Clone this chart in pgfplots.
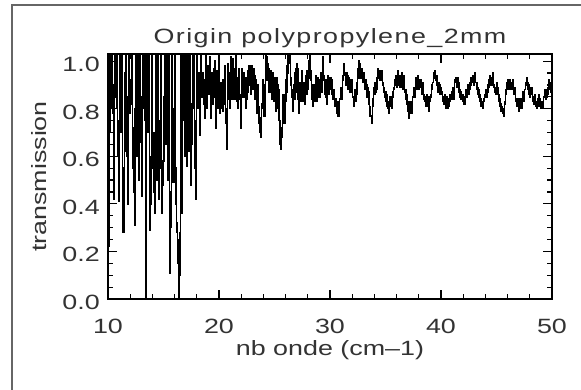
\documentclass[border=0pt]{standalone}
\usepackage{fontspec}
\setmainfont{Liberation Sans}[FakeStretch=1.3]
\newfontfamily\titlefont{Liberation Sans}[FakeStretch=1.3,LetterSpace=7]
\usepackage{pgfplots}
\pgfplotsset{compat=1.18}
\begin{document}
\begin{tikzpicture}[font=\fontsize{15.5}{18.6}\selectfont]
\useasboundingbox (0,0) rectangle (435.75pt,291.75pt);
\fill[white] (0,0) rectangle (435.75pt,291.75pt);
\draw[black!60, line width=1pt] (9pt,-2pt) -- (9pt,288pt) -- (440pt,288pt);
\begin{axis}[
  at={(81pt,67.5pt)}, anchor=south west,
  scale only axis, width=333pt, height=183.75pt,
  xmin=10, xmax=50, ymin=0, ymax=1.03,
  xtick={10,20,30,40,50}, xticklabels={10,20,30,40,50},
  ytick={0,0.2,0.4,0.6,0.8,1.0}, yticklabels={0.0,0.2,0.4,0.6,0.8,1.0},
  minor x tick num=4, minor y tick num=3,
  tick align=inside, xtick pos=both, ytick pos=both,
  major tick length=6.75pt, minor tick length=4pt,
  every tick/.style={black, line width=0.9pt},
  axis line style={black, line width=1.2pt},
  xticklabel style={anchor=base, yshift=-25.5pt, text=black!80},
  yticklabel style={anchor=east, inner sep=0pt, xshift=-6pt, yshift=-2.5pt, text=black!80},
  title={\titlefont Origin polypropylene\_2mm},
  title style={at={(0.5,1)}, anchor=base, yshift=2pt, text=black!80},
  xlabel={nb onde (cm--1)},
  xlabel style={at={(0.5,0)}, anchor=base, yshift=-42pt, text=black!80},
  ylabel={transmission},
  ylabel style={at={(axis description cs:0,0.5)}, anchor=center, yshift=52pt, text=black!80},
]
\addplot[black, line width=1.15pt, const plot mark mid] table {
x y
10.00 0.50
10.05 0.22
10.10 0.25
10.15 0.70
10.20 1.10
10.25 0.92
10.30 0.80
10.35 1.10
10.40 1.10
10.45 0.78
10.50 0.42
10.55 0.90
10.60 1.10
10.65 0.95
10.70 0.85
10.75 1.10
10.80 1.10
10.85 0.80
10.90 0.60
10.95 0.75
11.00 0.41
11.05 0.88
11.10 1.10
11.15 0.90
11.20 0.70
11.25 1.10
11.30 1.10
11.35 0.55
11.40 0.28
11.45 0.45
11.50 0.62
11.55 0.95
11.60 1.10
11.65 0.85
11.70 0.74
11.75 0.60
11.80 0.40
11.85 0.85
11.90 1.10
11.95 0.92
12.00 0.78
12.05 0.82
12.10 0.85
12.15 1.10
12.20 1.10
12.25 0.72
12.30 0.55
12.35 0.45
12.40 0.31
12.45 0.80
12.50 1.10
12.55 0.90
12.60 0.60
12.65 0.85
12.70 1.10
12.75 0.75
12.80 0.50
12.85 0.70
12.90 1.10
12.95 0.85
13.00 0.66
13.05 0.55
13.10 0.43
13.15 0.80
13.20 1.10
13.25 0.90
13.30 0.75
13.35 1.10
13.40 0.00
13.45 1.10
13.50 1.10
13.55 0.80
13.60 0.97
13.65 0.70
13.70 1.10
13.75 0.60
13.80 0.29
13.85 0.40
13.90 0.45
13.95 0.75
14.00 1.10
14.05 0.70
14.10 0.55
14.15 0.45
14.20 0.36
14.25 0.70
14.30 1.10
14.35 0.80
14.40 0.50
14.45 0.75
14.50 1.10
14.55 0.60
14.60 0.42
14.65 0.55
14.70 0.75
14.75 0.95
14.80 1.10
14.85 0.55
14.90 0.36
14.95 0.48
15.00 0.58
15.05 0.85
15.10 1.10
15.15 0.80
15.20 0.65
15.25 0.90
15.30 1.10
15.35 0.70
15.40 0.50
15.45 0.80
15.50 1.10
15.55 0.40
15.60 0.11
15.65 0.30
15.70 0.45
15.75 0.85
15.80 1.10
15.85 0.65
15.90 0.49
15.95 0.80
16.00 1.10
16.05 0.70
16.10 0.55
16.15 0.40
16.20 0.32
16.25 0.28
16.30 0.25
16.35 0.15
16.40 0.00
16.45 0.10
16.50 0.28
16.55 0.70
16.60 1.10
16.65 0.55
16.70 0.36
16.75 0.75
16.80 1.10
16.85 0.80
16.90 0.60
16.95 0.85
17.00 1.10
17.05 0.75
17.10 0.56
17.15 0.85
17.20 1.10
17.25 0.80
17.30 0.62
17.35 0.90
17.40 1.10
17.45 0.70
17.50 0.48
17.55 0.65
17.60 0.82
17.65 0.95
17.70 1.10
17.75 0.80
17.80 0.66
17.85 0.55
17.90 0.42
17.95 0.75
18.00 1.10
18.05 0.90
18.10 0.80
18.15 0.88
18.20 0.95
18.25 0.80
18.30 0.69
18.35 0.90
18.40 1.10
18.45 0.92
18.50 0.85
18.55 0.95
18.60 0.92
18.65 0.82
18.70 0.76
18.75 0.90
18.80 1.05
18.85 0.90
18.90 0.80
18.95 0.92
19.00 0.98
19.05 0.90
19.10 0.86
19.15 0.95
19.20 1.02
19.25 0.85
19.30 0.76
19.35 0.88
19.40 0.95
19.45 0.82
19.50 0.88
19.55 0.97
19.60 1.00
19.65 0.85
19.70 0.72
19.75 0.88
19.80 0.96
19.85 0.85
19.90 0.80
19.95 0.93
20.00 1.02
20.05 0.90
20.10 0.78
20.15 0.88
20.20 0.91
20.25 0.80
20.30 0.84
20.35 0.92
20.40 0.79
20.45 0.85
20.50 0.98
20.55 0.82
20.60 0.74
20.65 0.80
20.70 0.63
20.75 0.76
20.80 0.84
20.85 0.99
20.90 0.95
20.95 0.86
21.00 0.80
21.05 0.96
21.10 1.02
21.15 0.84
21.20 0.88
21.25 1.01
21.30 0.99
21.35 0.86
21.40 0.84
21.45 0.97
21.50 1.03
21.55 0.88
21.60 0.92
21.65 0.83
21.70 0.80
21.75 0.93
21.80 0.97
21.85 0.84
21.90 0.86
21.95 0.78
22.00 0.72
22.05 0.90
22.10 0.97
22.15 0.86
22.20 0.85
22.25 0.95
22.30 0.93
22.35 0.85
22.40 0.89
22.45 0.80
22.50 0.84
22.55 0.93
22.60 0.96
22.65 0.87
22.70 0.90
22.75 0.98
22.80 0.94
22.85 0.86
22.90 0.87
22.95 0.98
23.00 0.96
23.05 0.88
23.10 0.91
23.15 0.97
23.20 0.94
23.25 0.84
23.30 0.85
23.35 0.92
23.40 0.78
23.45 0.86
23.50 0.90
23.55 0.79
23.60 0.81
23.65 0.74
23.70 0.70
23.75 0.76
23.80 0.68
23.85 0.80
23.90 0.82
23.95 0.92
24.00 0.91
24.05 0.81
24.10 0.77
24.15 0.90
24.20 0.96
24.25 1.04
24.30 1.02
24.35 0.92
24.40 0.93
24.45 0.99
24.50 0.97
24.55 0.87
24.60 0.89
24.65 0.96
24.70 0.94
24.75 0.84
24.80 0.86
24.85 0.95
24.90 0.92
24.95 0.83
25.00 0.87
25.05 0.93
25.10 0.85
25.15 0.79
25.20 0.93
25.25 0.86
25.30 0.80
25.35 0.90
25.40 0.88
25.45 0.75
25.50 0.65
25.55 0.72
25.60 0.63
25.65 0.68
25.70 0.71
25.75 0.82
25.80 0.86
25.85 0.77
25.90 0.74
25.95 0.86
26.00 0.92
26.05 0.83
26.10 0.87
26.15 0.98
26.20 1.04
26.25 0.95
26.30 0.99
26.35 1.05
26.40 1.04
26.45 0.90
26.50 0.93
26.55 0.85
26.60 0.88
26.65 0.80
26.70 0.79
26.75 0.90
26.80 0.84
26.85 0.95
26.90 0.97
26.95 0.87
27.00 0.90
27.05 0.99
27.10 0.97
27.15 0.84
27.20 0.78
27.25 0.88
27.30 0.91
27.35 0.83
27.40 0.86
27.45 0.95
27.50 0.96
27.55 0.86
27.60 0.83
27.65 0.91
27.70 0.90
27.75 0.82
27.80 0.87
27.85 0.94
27.90 0.96
27.95 0.86
28.00 0.88
28.05 0.95
28.10 0.93
28.15 1.00
28.20 1.04
28.25 0.92
28.30 0.96
28.35 0.86
28.40 0.84
28.45 0.90
28.50 0.81
28.55 0.84
28.60 0.90
28.65 0.83
28.70 0.87
28.75 0.94
28.80 0.91
28.85 0.83
28.90 0.86
28.95 0.93
29.00 0.92
29.05 0.85
29.10 0.88
29.15 0.95
29.20 0.94
29.25 0.87
29.30 0.90
29.35 0.98
29.40 1.02
29.45 0.92
29.50 0.94
29.55 0.86
29.60 0.85
29.65 0.92
29.70 0.89
29.75 0.82
29.80 0.86
29.85 0.94
29.90 0.93
29.95 0.86
30.00 0.90
30.05 0.93
30.10 0.88
30.15 0.86
30.20 0.92
30.25 0.87
30.30 0.84
30.35 0.88
30.40 0.87
30.45 0.81
30.50 0.81
30.55 0.84
30.60 0.79
30.65 0.78
30.70 0.83
30.75 0.77
30.80 0.77
30.85 0.81
30.90 0.84
30.95 0.89
31.00 0.89
31.05 0.84
31.10 0.86
31.15 0.92
31.20 0.94
31.25 0.99
31.30 0.99
31.35 0.94
31.40 0.95
31.45 0.90
31.50 0.91
31.55 0.95
31.60 0.94
31.65 0.88
31.70 0.89
31.75 0.93
31.80 0.92
31.85 0.87
31.90 0.88
31.95 0.92
32.00 0.90
32.05 0.85
32.10 0.85
32.15 0.81
32.20 0.83
32.25 0.88
32.30 0.87
32.35 0.83
32.40 0.86
32.45 0.91
32.50 0.93
32.55 0.97
32.60 0.96
32.65 1.00
32.70 0.99
32.75 0.93
32.80 0.94
32.85 0.97
32.90 0.96
32.95 0.91
33.00 0.91
33.05 0.95
33.10 0.93
33.15 0.88
33.20 0.88
33.25 0.92
33.30 0.90
33.35 0.85
33.40 0.85
33.45 0.89
33.50 0.87
33.55 0.82
33.60 0.81
33.65 0.77
33.70 0.77
33.75 0.74
33.80 0.76
33.85 0.81
33.90 0.84
33.95 0.88
34.00 0.89
34.05 0.86
34.10 0.91
34.15 0.87
34.20 0.88
34.25 0.93
34.30 0.93
34.35 0.97
34.40 0.95
34.45 0.93
34.50 0.96
34.55 0.92
34.60 0.93
34.65 0.96
34.70 0.94
34.75 0.90
34.80 0.91
34.85 0.87
34.90 0.89
34.95 0.85
35.00 0.87
35.05 0.83
35.10 0.86
35.15 0.81
35.20 0.83
35.25 0.80
35.30 0.82
35.35 0.78
35.40 0.81
35.45 0.85
35.50 0.84
35.55 0.80
35.60 0.83
35.65 0.87
35.70 0.85
35.75 0.89
35.80 0.88
35.85 0.92
35.90 0.90
35.95 0.94
36.00 0.91
36.05 0.89
36.10 0.93
36.15 0.96
36.20 0.92
36.25 0.90
36.30 0.94
36.35 0.89
36.40 0.91
36.45 0.95
36.50 0.93
36.55 0.88
36.60 0.90
36.65 0.94
36.70 0.92
36.75 0.87
36.80 0.88
36.85 0.84
36.90 0.86
36.95 0.82
37.00 0.83
37.05 0.79
37.10 0.80
37.15 0.76
37.20 0.78
37.25 0.83
37.30 0.82
37.35 0.78
37.40 0.80
37.45 0.85
37.50 0.85
37.55 0.89
37.60 0.87
37.65 0.85
37.70 0.89
37.75 0.93
37.80 0.91
37.85 0.88
37.90 0.90
37.95 0.94
38.00 0.92
38.05 0.88
38.10 0.89
38.15 0.92
38.20 0.90
38.25 0.86
38.30 0.88
38.35 0.91
38.40 0.89
38.45 0.84
38.50 0.86
38.55 0.83
38.60 0.85
38.65 0.81
38.70 0.83
38.75 0.86
38.80 0.85
38.85 0.81
38.90 0.82
38.95 0.79
39.00 0.83
39.05 0.85
39.10 0.86
39.15 0.90
39.20 0.88
39.25 0.91
39.30 0.91
39.35 0.95
39.40 0.93
39.45 0.96
39.50 0.95
39.55 0.92
39.60 0.94
39.65 0.90
39.70 0.91
39.75 0.87
39.80 0.88
39.85 0.91
39.90 0.90
39.95 0.86
40.00 0.89
40.05 0.86
40.10 0.87
40.15 0.83
40.20 0.85
40.25 0.82
40.30 0.83
40.35 0.86
40.40 0.84
40.45 0.80
40.50 0.82
40.55 0.85
40.60 0.82
40.65 0.80
40.70 0.84
40.75 0.81
40.80 0.83
40.85 0.86
40.90 0.86
40.95 0.84
41.00 0.87
41.05 0.89
41.10 0.86
41.15 0.84
41.20 0.89
41.25 0.92
41.30 0.91
41.35 0.93
41.40 0.92
41.45 0.89
41.50 0.90
41.55 0.93
41.60 0.91
41.65 0.87
41.70 0.88
41.75 0.85
41.80 0.87
41.85 0.84
41.90 0.85
41.95 0.83
42.00 0.86
42.05 0.82
42.10 0.84
42.15 0.82
42.20 0.85
42.25 0.88
42.30 0.87
42.35 0.85
42.40 0.88
42.45 0.90
42.50 0.89
42.55 0.86
42.60 0.88
42.65 0.91
42.70 0.90
42.75 0.93
42.80 0.91
42.85 0.94
42.90 0.93
42.95 0.90
43.00 0.92
43.05 0.95
43.10 0.94
43.15 0.91
43.20 0.91
43.25 0.88
43.30 0.89
43.35 0.86
43.40 0.88
43.45 0.85
43.50 0.86
43.55 0.83
43.60 0.84
43.65 0.81
43.70 0.83
43.75 0.80
43.80 0.81
43.85 0.84
43.90 0.83
43.95 0.86
44.00 0.85
44.05 0.88
44.10 0.88
44.15 0.85
44.20 0.87
44.25 0.90
44.30 0.89
44.35 0.92
44.40 0.91
44.45 0.94
44.50 0.92
44.55 0.90
44.60 0.93
44.65 0.95
44.70 0.92
44.75 0.89
44.80 0.90
44.85 0.87
44.90 0.89
44.95 0.86
45.00 0.88
45.05 0.91
45.10 0.89
45.15 0.86
45.20 0.86
45.25 0.83
45.30 0.84
45.35 0.81
45.40 0.82
45.45 0.79
45.50 0.81
45.55 0.78
45.60 0.80
45.65 0.77
45.70 0.79
45.75 0.83
45.80 0.82
45.85 0.86
45.90 0.88
45.95 0.91
46.00 0.90
46.05 0.92
46.10 0.91
46.15 0.88
46.20 0.89
46.25 0.92
46.30 0.91
46.35 0.88
46.40 0.90
46.45 0.92
46.50 0.89
46.55 0.86
46.60 0.87
46.65 0.89
46.70 0.86
46.75 0.83
46.80 0.84
46.85 0.81
46.90 0.84
46.95 0.81
47.00 0.82
47.05 0.79
47.10 0.81
47.15 0.84
47.20 0.83
47.25 0.80
47.30 0.84
47.35 0.87
47.40 0.86
47.45 0.83
47.50 0.85
47.55 0.88
47.60 0.88
47.65 0.91
47.70 0.90
47.75 0.93
47.80 0.91
47.85 0.88
47.90 0.90
47.95 0.86
48.00 0.88
48.05 0.85
48.10 0.87
48.15 0.89
48.20 0.86
48.25 0.83
48.30 0.85
48.35 0.82
48.40 0.83
48.45 0.86
48.50 0.84
48.55 0.81
48.60 0.83
48.65 0.80
48.70 0.84
48.75 0.81
48.80 0.83
48.85 0.86
48.90 0.84
48.95 0.81
49.00 0.82
49.05 0.80
49.10 0.83
49.15 0.80
49.20 0.82
49.25 0.85
49.30 0.85
49.35 0.88
49.40 0.87
49.45 0.84
49.50 0.88
49.55 0.85
49.60 0.86
49.65 0.89
49.70 0.89
49.75 0.92
49.80 0.91
49.85 0.88
49.90 0.90
49.95 0.87
50.00 0.88
};
\end{axis}
\end{tikzpicture}
\end{document}
